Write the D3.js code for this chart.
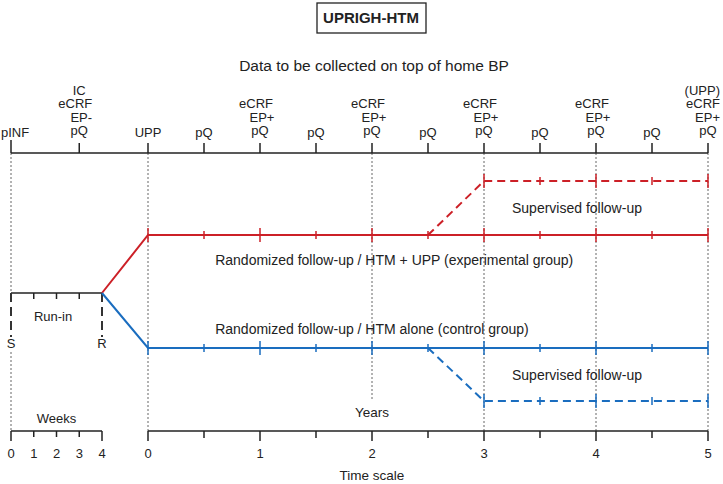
<!DOCTYPE html>
<html><head><meta charset="utf-8">
<script src="https://cdn.jsdelivr.net/npm/d3@7"></script>
<style>
html,body{margin:0;padding:0;background:#fff;}
text{font-family:"Liberation Sans",Arial,Helvetica,sans-serif;fill:#222;}
</style></head>
<body>
<svg id="chart" width="723" height="484"></svg>
<script>
// ---- data ----
const title = "UPRIGH-HTM";
const subtitle = "Data to be collected on top of home BP";
const weekTicks = [0, 1, 2, 3, 4];
const yearMajor = [0, 1, 2, 3, 4, 5];
const yearMinor = [0.5, 1.5, 2.5, 3.5, 4.5];
const lineTickYears = [0, 0.5, 1, 1.5, 2, 2.5, 3, 3.5, 4, 4.5, 5];
const supTickYears = [3, 3.5, 4, 4.5, 5];
// top timeline events: [phase, time]
const eventTimes = [["w",0],["w",3],["y",0],["y",0.5],["y",1],["y",1.5],["y",2],["y",2.5],["y",3],["y",3.5],["y",4],["y",4.5],["y",5]];
const eventTexts = [["pINF"],["IC","eCRF","EP-","pQ"],["UPP"],["pQ"],["eCRF","EP+","pQ"],["pQ"],["eCRF","EP+","pQ"],["pQ"],["eCRF","EP+","pQ"],["pQ"],["eCRF","EP+","pQ"],["pQ"],["(UPP)","eCRF","EP+","pQ"]];
// arms: [phase, time, level]
const runIn = [["w",0,0],["w",4,0]];
const experimental = [["w",4,0],["y",0,1],["y",5,1]];
const control = [["w",4,0],["y",0,-1],["y",5,-1]];
const supervisedExp = [["y",2.5,1],["y",3,2],["y",5,2]];
const supervisedCtl = [["y",2.5,-1],["y",3,-2],["y",5,-2]];
const dottedYears = [0, 2, 3, 4, 5];

// ---- scales ----
const svg = d3.select("#chart");
const xw = d3.scaleLinear().domain([0,4]).range([11,102]);
const xy = d3.scaleLinear().domain([0,5]).range([148,708]);
const X = (p,t) => p === "w" ? xw(t) : xy(t);
const lv = d3.scaleLinear().domain([-2,-1,0,1,2]).range([401,348,293,235,181]);
const RED = "#cc2027", BLUE = "#1a6dbf", INK = "#222";
const topY = 153, botY = 431;

// title
const tb = svg.append("g");
tb.append("text").attr("x",371).attr("y",23).attr("text-anchor","middle")
  .style("font-size","15px").style("font-weight","bold").text(title);
tb.append("rect").attr("x",317).attr("y",3).attr("width",109).attr("height",30)
  .attr("fill","none").attr("stroke",INK).attr("stroke-width",1.3);
svg.append("text").attr("x",374).attr("y",71).attr("text-anchor","middle")
  .style("font-size","15.5px").text(subtitle);

// dotted verticals
const dot = svg.append("g").attr("stroke","#666").attr("stroke-width",1).attr("stroke-dasharray","2,2");
dot.append("line").attr("x1",xw(0)).attr("x2",xw(0)).attr("y1",topY).attr("y2",lv(0));
dot.append("line").attr("x1",xw(0)).attr("x2",xw(0)).attr("y1",352).attr("y2",botY);
dottedYears.forEach(y => {
  dot.append("line").attr("x1",xy(y)).attr("x2",xy(y)).attr("y1",topY)
    .attr("y2", y === 2 ? 401 : botY);
});

// top timeline
svg.append("line").attr("x1",xw(0)).attr("x2",xy(5)).attr("y1",topY).attr("y2",topY)
  .attr("stroke",INK).attr("stroke-width",1.5);
eventTimes.forEach((e,i) => {
  const x = X(e[0],e[1]);
  const lines = eventTexts[i];
  const first = (e[0]==="w" && e[1]===0);
  const last = (e[0]==="y" && e[1]===5);
  svg.append("line").attr("x1",x).attr("x2",x).attr("y1",topY).attr("y2",topY-(first?13:10))
    .attr("stroke",INK).attr("stroke-width",1.5);
  const single = lines.length === 1;
  const base = single ? 137 : 135;
  lines.forEach((s,j) => {
    const yy = base - (lines.length-1-j)*13.5;
    let dx = 0;
    if (s === "eCRF") dx = -4;
    if (s === "EP+" || s === "EP-") dx = 2;
    const t = svg.append("text").attr("y",yy).style("font-size","13px").text(s);
    if (first) t.attr("x",x-10).attr("text-anchor","start");
    else if (last && s !== "pQ") t.attr("x",720).attr("text-anchor","end");
    else t.attr("x",x+dx).attr("text-anchor","middle");
  });
});

// run-in
svg.append("line").attr("x1",xw(0)).attr("x2",xw(4)).attr("y1",lv(0)).attr("y2",lv(0))
  .attr("stroke",INK).attr("stroke-width",1.5);
[1,2,3].forEach(w => svg.append("line").attr("x1",xw(w)).attr("x2",xw(w))
  .attr("y1",lv(0)).attr("y2",lv(0)+6).attr("stroke",INK).attr("stroke-width",1.5));
[[0,"S"],[4,"R"]].forEach(d => {
  svg.append("line").attr("x1",xw(d[0])).attr("x2",xw(d[0])).attr("y1",lv(0)).attr("y2",337)
    .attr("stroke","#333").attr("stroke-width",2).attr("stroke-dasharray","9,5");
  svg.append("text").attr("x",xw(d[0])).attr("y",347.5).attr("text-anchor","middle")
    .style("font-size","13px").text(d[1]);
});
svg.append("text").attr("x",xw(1.85)).attr("y",321).attr("text-anchor","middle")
  .style("font-size","13px").text("Run-in");

// arms
const line = d3.line().x(d => X(d[0],d[1])).y(d => lv(d[2]));
function arm(data, color, dashed) {
  svg.append("path").datum(data).attr("d",line).attr("fill","none")
    .attr("stroke",color).attr("stroke-width",2)
    .attr("stroke-dasharray", dashed ? "8,5" : null);
}
arm(experimental, RED, false);
arm(control, BLUE, false);
arm(supervisedExp, RED, true);
arm(supervisedCtl, BLUE, true);
function armTicks(years, level, color) {
  years.forEach(y => {
    const h = Number.isInteger(y) ? 7 : 4;
    svg.append("line").attr("x1",xy(y)).attr("x2",xy(y))
      .attr("y1",lv(level)-h).attr("y2",lv(level)+h)
      .attr("stroke",color).attr("stroke-width",1.5);
  });
}
armTicks(lineTickYears, 1, RED);
armTicks(lineTickYears, -1, BLUE);
armTicks(supTickYears, 2, RED);
armTicks(supTickYears, -2, BLUE);

// arm labels
svg.append("text").attr("x",xy(0.6)).attr("y",lv(1)+30).style("font-size","14px")
  .text("Randomized follow-up / HTM + UPP (experimental group)");
svg.append("text").attr("x",xy(0.6)).attr("y",lv(-1)-14).style("font-size","14px")
  .text("Randomized follow-up / HTM alone (control group)");
svg.append("text").attr("x",xy(3.25)).attr("y",213).style("font-size","14px")
  .text("Supervised follow-up");
svg.append("text").attr("x",xy(3.25)).attr("y",380).style("font-size","14px")
  .text("Supervised follow-up");

// bottom axes
const wAxis = svg.append("g");
wAxis.append("line").attr("x1",xw(0)).attr("x2",xw(4)).attr("y1",botY).attr("y2",botY)
  .attr("stroke",INK).attr("stroke-width",1.5);
weekTicks.forEach(w => {
  const end = (w===0 || w===4);
  wAxis.append("line").attr("x1",xw(w)).attr("x2",xw(w)).attr("y1",botY).attr("y2",botY+(end?10:6))
    .attr("stroke",INK).attr("stroke-width",1.5);
  wAxis.append("text").attr("x",xw(w)).attr("y",458).attr("text-anchor","middle")
    .style("font-size","13px").text(w);
});
svg.append("text").attr("x",xw(2)).attr("y",423).attr("text-anchor","middle")
  .style("font-size","13px").text("Weeks");

const yAxis = svg.append("g");
yAxis.append("line").attr("x1",xy(0)).attr("x2",xy(5)).attr("y1",botY).attr("y2",botY)
  .attr("stroke",INK).attr("stroke-width",1.5);
yearMajor.forEach(y => {
  yAxis.append("line").attr("x1",xy(y)).attr("x2",xy(y)).attr("y1",botY).attr("y2",botY+10)
    .attr("stroke",INK).attr("stroke-width",1.5);
  yAxis.append("text").attr("x",xy(y)).attr("y",458).attr("text-anchor","middle")
    .style("font-size","13px").text(y);
});
yearMinor.forEach(y => {
  yAxis.append("line").attr("x1",xy(y)).attr("x2",xy(y)).attr("y1",botY).attr("y2",botY+7)
    .attr("stroke",INK).attr("stroke-width",1.5);
});
svg.append("text").attr("x",xy(2)).attr("y",417).attr("text-anchor","middle")
  .style("font-size","13.5px").text("Years");
svg.append("text").attr("x",xy(2)).attr("y",480).attr("text-anchor","middle")
  .style("font-size","13.5px").text("Time scale");
</script>
</body></html>
